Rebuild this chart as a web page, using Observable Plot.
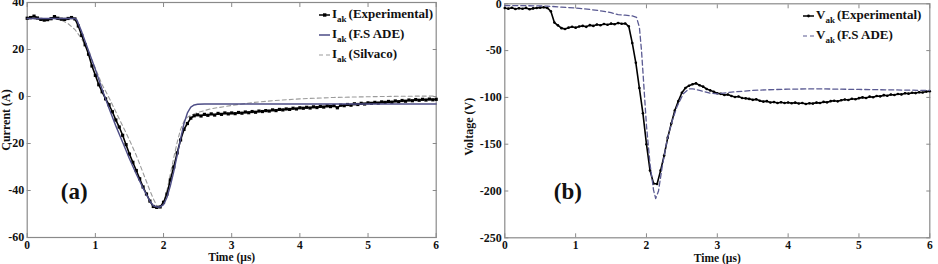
<!DOCTYPE html>
<html>
<head>
<meta charset="utf-8">
<script src="https://cdn.jsdelivr.net/npm/d3@7"></script>
<script src="https://cdn.jsdelivr.net/npm/@observablehq/plot@0.6"></script>
<style>
  html, body { margin: 0; padding: 0; background: white; }
  #row { display: flex; width: 938px; height: 264px; overflow: hidden; }
  .panel { position: relative; height: 264px; }
  .leg { position: absolute; font-family: "Liberation Serif", "Times New Roman", serif; font-weight: bold; font-size: 13px; color: #111; }
  .leg .r { height: 20px; line-height: 20px; white-space: nowrap; display: flex; align-items: center; }
  .leg svg { margin-right: 1px; }
  .leg sub { font-size: 9px; vertical-align: -4px; line-height: 0; margin-right: 2px; }
</style>
</head>
<body>
<div id="row">
  <div id="pa" class="panel" style="width:440px"></div>
  <div id="pb" class="panel" style="width:498px"></div>
</div>
<script>
// ---------- data ----------
const xTicks = [0, 1, 2, 3, 4, 5, 6];
const yTicksA = [-60, -40, -20, 0, 20, 40];
const yTicksB = [-250, -200, -150, -100, -50, 0];

// experimental traces sampled every 0.05 µs from 0 to 6 µs
const sampleTimes = d3.range(121).map(i => +(i * 0.05).toFixed(2));

const expA = [
  33.3, 33.6, 34.2, 33.4, 32.8, 32.5, 32.7, 33.1, 34.0, 33.3, 32.9, 32.8, 33.2, 33.6, 33.0,
  30, 26, 22, 18, 13, 9, 5, 2, -1, -3.5, -6.5, -10, -13, -16.5, -20.5, -24.5, -28, -31.5, -35, -38.5,
  -41.5, -44.5, -46.8, -47.2, -47, -45, -41.5, -35.5, -30, -24, -18.5, -14, -11.5, -9.2, -8.2,
  -7.8, -8.3, -7.6, -8.0, -7.4, -7.9, -7.2, -7.6, -7.0, -7.4,
  -7.0, -7.3, -6.8, -7.1, -6.6, -6.9, -6.4, -6.7, -6.2, -6.4,
  -6.0, -6.2, -5.7, -6.0, -5.5, -5.7, -5.3, -5.5, -5.0, -5.3,
  -4.8, -5.0, -4.6, -4.9, -4.4, -4.7, -4.2, -4.5, -4.0, -4.3,
  -3.9, -4.8, -3.7, -3.9, -3.4, -3.7, -3.1, -3.4, -2.9, -3.2,
  -2.7, -2.9, -2.5, -2.8, -2.3, -2.5, -2.1, -2.4, -1.9, -2.2,
  -1.7, -2.0, -1.5, -1.8, -1.3, -1.6, -1.2, -1.5, -1.1, -1.4, -1.2
];

const adeATime = [0,0.7,0.73,0.8,0.9,1.0,1.1,1.2,1.3,1.4,1.5,1.6,1.7,1.8,1.85,1.9,1.95,2.0,2.05,2.1,2.15,2.2,2.25,2.3,2.35,2.4,2.45,2.5,2.6,3,4,5,6];
const adeAVal  = [33.2,33.2,32.5,27.5,19.5,11.5,3,-5,-12.5,-19.5,-26.5,-33,-39,-44.5,-46.5,-47,-47,-46,-43,-38,-32,-25,-18,-11.5,-7,-4.5,-3.6,-3.3,-3.2,-3.2,-3.2,-3.2,-3.2];

const silATime = [0,0.4,0.5,0.6,0.7,0.8,0.9,1.0,1.1,1.2,1.3,1.4,1.5,1.6,1.7,1.8,1.85,1.9,1.95,2.0,2.05,2.1,2.15,2.2,2.25,2.3,2.35,2.4,2.5,2.7,3.0,3.3,3.6,4.0,4.5,5.0,5.5,6.0];
const silAVal  = [33,33,32.5,31,28.5,24.5,19,12,5,-0.5,-6.5,-12.5,-18.5,-25,-32.5,-40,-43.5,-46.5,-47,-45,-40,-33,-26,-19.5,-14,-10.5,-8.8,-8,-6.8,-5.2,-3.8,-2.6,-1.8,-1.0,-0.4,-0.1,0.1,0.2];

const expB = [
  -4.5, -5.2, -4.3, -5.6, -4.8, -5.3, -4.4, -5.8, -4.9, -4.5, -4.1, -3.7, -4.4,
  -8, -20, -23, -26, -27, -25.5, -24.5,
  -25.5, -24.2, -23.6, -24.6, -22.8, -23.6, -22.2, -22.9, -21.6, -22.4,
  -21.2, -21.9, -20.6, -21.3, -21, -24, -42, -63, -90, -117,
  -150, -178, -192, -192.5, -178, -162, -143, -128, -114, -104,
  -95, -90, -87.5, -86, -85, -87, -88.5, -91, -92.5, -94,
  -95.5, -96.2, -97.4, -97, -98.5, -99.5, -99.1, -100.6, -101, -101.6,
  -102.6, -102.1, -103.6, -104.5, -104, -105.5, -105, -106, -105.2, -106,
  -105.5, -106.3, -105.6, -106.5, -106, -107, -106.2, -106.6, -105.6, -106,
  -104.8, -105.3, -104, -103.6, -104.2, -103, -102.3, -102.8, -101.5, -102,
  -100.8, -100, -100.6, -99.2, -99.8, -98.5, -98.9, -97.6, -98.2, -97,
  -97.5, -96.3, -96.8, -95.6, -96, -95, -95.4, -94.5, -94.8, -93.8, -93.5
];

const adeBTime = [0,0.3,0.6,0.8,1.0,1.2,1.4,1.5,1.6,1.7,1.8,1.86,1.9,1.93,1.96,2.0,2.05,2.1,2.13,2.17,2.22,2.29,2.36,2.43,2.52,2.6,2.65,2.75,2.9,3.0,3.2,3.5,3.7,4.0,4.4,5.0,5.5,6.0];
const adeBVal  = [-2,-2,-2.5,-3.5,-4.5,-6,-8,-9.5,-11.5,-12.2,-13,-14.5,-25,-50,-84,-130,-171,-199,-208,-200,-175,-146,-126,-110,-96,-91,-90.8,-92.5,-95.5,-96.2,-94.4,-92.5,-91.9,-91.2,-90.8,-91.5,-92,-92.6];

const legendA = ["(Experimental)", "(F.S ADE)", "(Silvaco)"];
const legendB = ["(Experimental)", "(F.S ADE)"];

// ---------- helpers ----------
const pair = (ts, vs) => ts.map((t, i) => ({t, v: vs[i]}));
const fmt = d => String(d);
const serif = '"Liberation Serif", "Times New Roman", serif';
const ADE_COLOR = "#4d4d86";
const SIL_COLOR = "#9b9b9b";
const ADEB_COLOR = "#5a5a92";

function frameMarks(yTicks) {
  return [
    Plot.frame({stroke: "#8a8a8a", strokeWidth: 1.2}),
    Plot.axisX(xTicks, {anchor: "bottom", tickSize: 0, tickPadding: 3, tickFormat: fmt, label: null, fontSize: 11.5, fontWeight: "bold", fill: "#111"}),
    Plot.axisX(xTicks, {anchor: "bottom", tickSize: 4, dy: -4, tickFormat: () => "", label: null, stroke: "#8a8a8a"}),
    Plot.axisX(xTicks, {anchor: "top", tickSize: 4, dy: 4, tickFormat: () => "", label: null, stroke: "#8a8a8a"}),
    Plot.axisY(yTicks, {anchor: "left", tickSize: 0, tickPadding: 3, tickFormat: fmt, label: null, fontSize: 12, fontWeight: "bold", fill: "#111"}),
    Plot.axisY(yTicks, {anchor: "left", tickSize: 4, dx: 4, tickFormat: () => "", label: null, stroke: "#8a8a8a"}),
    Plot.axisY(yTicks, {anchor: "right", tickSize: 4, dx: -4, tickFormat: () => "", label: null, stroke: "#8a8a8a"}),
    Plot.text(["Time (µs)"], {text: d => d, frameAnchor: "bottom", dy: 20.3, textAnchor: "middle", lineAnchor: "middle", fontSize: 11.5, fontWeight: "bold", fill: "#111"})
  ];
}

// ---------- panel (a) ----------
const expAData = pair(sampleTimes, expA);
const plotA = Plot.plot({
  width: 440, height: 264,
  marginLeft: 26.7, marginRight: 4.3, marginTop: 2, marginBottom: 27,
  x: {domain: [0, 6], axis: null},
  y: {domain: [-60, 40], axis: null},
  style: {fontFamily: serif, fontWeight: "bold", fontSize: "12px", background: "white", overflow: "visible"},
  marks: [
    ...frameMarks(yTicksA),
    Plot.text(["Current (A)"], {text: d => d, frameAnchor: "left", dx: -21.5, rotate: -90, textAnchor: "middle", lineAnchor: "middle", fontSize: 12, fontWeight: "bold", fill: "#111"}),
    Plot.text(["(a)"], {text: d => d, frameAnchor: "bottom-left", dx: 47, dy: -46, textAnchor: "middle", lineAnchor: "middle", fontSize: 23, fontWeight: "bold", fill: "#111"}),
    Plot.line(pair(silATime, silAVal), {x: "t", y: "v", stroke: SIL_COLOR, strokeWidth: 1.1, strokeDasharray: "4,3"}),
    Plot.line(expAData, {x: "t", y: "v", stroke: "#000", strokeWidth: 1.6}),
    Plot.dot(expAData, {x: "t", y: "v", symbol: "square", r: 1.8, fill: "#000", stroke: null}),
    Plot.line(pair(adeATime, adeAVal), {x: "t", y: "v", stroke: ADE_COLOR, strokeWidth: 1.4})
  ]
});
document.getElementById("pa").appendChild(plotA);

// ---------- panel (b) ----------
const expBData = pair(sampleTimes, expB);
const plotB = Plot.plot({
  width: 498, height: 264,
  marginLeft: 64.3, marginRight: 8.7, marginTop: 3.3, marginBottom: 26.7,
  x: {domain: [0, 6], axis: null},
  y: {domain: [-250, 0], axis: null},
  style: {fontFamily: serif, fontWeight: "bold", fontSize: "12px", background: "white", overflow: "visible"},
  marks: [
    ...frameMarks(yTicksB),
    Plot.text(["Voltage (V)"], {text: d => d, frameAnchor: "left", dx: -35.3, dy: 6, rotate: -90, textAnchor: "middle", lineAnchor: "middle", fontSize: 12, fontWeight: "bold", fill: "#111"}),
    Plot.text(["(b)"], {text: d => d, frameAnchor: "bottom-left", dx: 63, dy: -46, textAnchor: "middle", lineAnchor: "middle", fontSize: 23, fontWeight: "bold", fill: "#111"}),
    Plot.line(expBData, {x: "t", y: "v", stroke: "#000", strokeWidth: 1.6}),
    Plot.dot(expBData, {x: "t", y: "v", r: 1.3, fill: "#000", stroke: null}),
    Plot.line(pair(adeBTime, adeBVal), {x: "t", y: "v", stroke: ADEB_COLOR, strokeWidth: 1.3, strokeDasharray: "5,3"})
  ]
});
document.getElementById("pb").appendChild(plotB);

// ---------- legends ----------
function sample(kind, color) {
  const ns = "http://www.w3.org/2000/svg";
  const s = document.createElementNS(ns, "svg");
  s.setAttribute("width", 13); s.setAttribute("height", 10);
  const l = document.createElementNS(ns, "line");
  l.setAttribute("x1", 1); l.setAttribute("x2", 12); l.setAttribute("y1", 6); l.setAttribute("y2", 6);
  l.setAttribute("stroke", color); l.setAttribute("stroke-width", kind === "dash" ? 1.2 : 1.5);
  if (kind === "dash") l.setAttribute("stroke-dasharray", "4,3");
  s.appendChild(l);
  if (kind === "square" || kind === "dot") {
    const m = document.createElementNS(ns, kind === "square" ? "rect" : "circle");
    if (kind === "square") { m.setAttribute("x", 5); m.setAttribute("y", 4.3); m.setAttribute("width", 3.4); m.setAttribute("height", 3.4); }
    else { m.setAttribute("cx", 6.5); m.setAttribute("cy", 6); m.setAttribute("r", 1.4); }
    m.setAttribute("fill", color);
    s.appendChild(m);
  }
  return s;
}
function legend(container, left, top, symbol, entries, kinds, colors) {
  const d = document.createElement("div");
  d.className = "leg"; d.style.left = left + "px"; d.style.top = top + "px";
  entries.forEach((e, i) => {
    const r = document.createElement("div"); r.className = "r";
    r.appendChild(sample(kinds[i], colors[i]));
    const sp = document.createElement("span");
    sp.innerHTML = symbol + "<sub>ak</sub>" + e;
    r.appendChild(sp);
    d.appendChild(r);
  });
  container.appendChild(d);
}
legend(document.getElementById("pa"), 318, 4, "I", legendA, ["square", "solid", "dash"], ["#000", ADE_COLOR, SIL_COLOR]);
legend(document.getElementById("pb"), 362, 5, "V", legendB, ["dot", "dash"], ["#000", ADEB_COLOR]);
</script>
</body>
</html>
